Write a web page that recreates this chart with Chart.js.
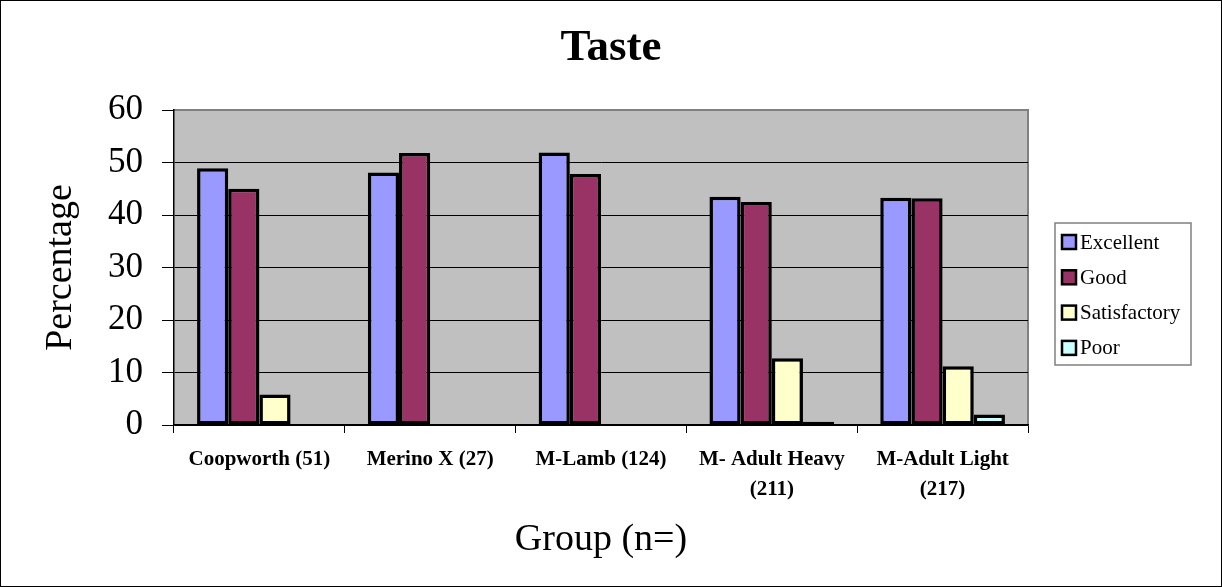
<!DOCTYPE html>
<html lang="en">
<head>
    <meta charset="UTF-8">
    <title>Taste</title>
    <script src="https://cdn.jsdelivr.net/npm/chart.js"></script>
    <style>
        html, body { margin: 0; padding: 0; background: #fff; }
        #chart { display: block; }
    </style>
</head>
<body>
    <canvas id="chart" width="1222" height="587"></canvas>

    <script>
        // values
        const groups = [
            'Coopworth (51)',
            'Merino X (27)',
            'M-Lamb (124)',
            ['M- Adult Heavy', '(211)'],
            ['M-Adult Light', '(217)']
        ];
        const excellent    = [48.9, 48.1, 51.9, 43.5, 43.3];
        const good         = [45.0, 51.8, 47.8, 42.5, 43.2];
        const satisfactory = [5.8, null, null, 12.7, 11.2];
        const poor         = [null, null, null, 0.6, 2.0];
        const yTicks = [0, 10, 20, 30, 40, 50, 60];

        const serif = "'Liberation Serif', 'Times New Roman', serif";
        Chart.defaults.color = '#000';

        // grey plot area with its frame
        const plotBackground = {
            id: 'plotBackground',
            beforeDraw(chart) {
                const { ctx, chartArea: a } = chart;
                ctx.save();
                ctx.fillStyle = '#C0C0C0';
                ctx.fillRect(a.left, a.top, a.right - a.left, a.bottom - a.top);
                ctx.strokeStyle = '#808080';
                ctx.lineWidth = 2;
                ctx.beginPath();
                ctx.moveTo(a.left, a.top);
                ctx.lineTo(a.right, a.top);
                ctx.lineTo(a.right, a.bottom);
                ctx.stroke();
                ctx.restore();
            }
        };

        // boxed legend on the right plus the outer frame
        const sideLegend = {
            id: 'sideLegend',
            afterDraw(chart) {
                const ctx = chart.ctx;
                ctx.save();
                ctx.strokeStyle = '#000';
                ctx.lineWidth = 1;
                ctx.strokeRect(0.5, 0.5, chart.width - 1, chart.height - 1);

                ctx.strokeStyle = '#808080';
                ctx.lineWidth = 1.5;
                ctx.strokeRect(1055, 223, 136, 142);

                ctx.font = Chart.helpers.toFont({ family: serif, size: 21 }).string;
                ctx.textBaseline = 'middle';
                ctx.textAlign = 'left';
                chart.data.datasets.forEach((ds, i) => {
                    const y = 242 + i * 35.3;
                    ctx.fillStyle = ds.backgroundColor;
                    ctx.fillRect(1062, y - 7, 14, 14);
                    ctx.strokeStyle = '#000';
                    ctx.lineWidth = 2.5;
                    ctx.strokeRect(1062, y - 7, 14, 14);
                    ctx.fillStyle = '#000';
                    ctx.fillText(ds.label, 1080, y + 1);
                });
                ctx.restore();
            }
        };

        function bar(label, data, color) {
            return {
                label,
                data,
                backgroundColor: color,
                borderColor: '#000',
                borderWidth: 3.5,
                borderSkipped: false,
                categoryPercentage: 0.73,
                barPercentage: 1.0
            };
        }

        new Chart(document.getElementById('chart'), {
            type: 'bar',
            data: {
                labels: groups,
                datasets: [
                    bar('Excellent', excellent, '#9999FF'),
                    bar('Good', good, '#993366'),
                    bar('Satisfactory', satisfactory, '#FFFFCC'),
                    bar('Poor', poor, '#CCFFFF')
                ]
            },
            options: {
                responsive: false,
                animation: false,
                plugins: {
                    legend: { display: false },
                    tooltip: { enabled: false },
                    title: {
                        display: true,
                        text: 'Taste',
                        font: { family: serif, size: 45, weight: 'bold', lineHeight: 1.2 },
                        padding: { top: 21, bottom: 35 }
                    }
                },
                scales: {
                    x: {
                        afterFit(scale) { scale.height = 162; },
                        grid: {
                            offset: true,
                            drawOnChartArea: false,
                            drawTicks: true,
                            tickLength: 8,
                            tickColor: '#000'
                        },
                        border: { color: '#000', width: 1.5 },
                        ticks: {
                            padding: 12,
                            maxRotation: 0,
                            autoSkip: false,
                            font: { family: serif, size: 21, weight: 'bold', lineHeight: 1.4 }
                        },
                        title: {
                            display: true,
                            text: 'Group (n=)',
                            font: { family: serif, size: 38, lineHeight: 1.2 },
                            padding: { top: 0, bottom: 24 }
                        }
                    },
                    y: {
                        min: 0,
                        max: 60,
                        afterFit(scale) { scale.width = 174; },
                        afterBuildTicks(scale) { scale.ticks = yTicks.map(v => ({ value: v })); },
                        grid: {
                            color: c => (c.tick && c.tick.value === 60) ? 'rgba(0,0,0,0)' : '#000',
                            lineWidth: 1,
                            drawTicks: true,
                            tickLength: 12,
                            tickColor: '#000'
                        },
                        border: { color: '#000', width: 1.5 },
                        ticks: {
                            padding: 19,
                            font: { family: serif, size: 35 }
                        },
                        title: {
                            display: true,
                            text: 'Percentage',
                            font: { family: serif, size: 38, lineHeight: 1.2 },
                            padding: { top: 38, bottom: 0 }
                        }
                    },
                    // empty right-hand scale that keeps room for the legend box
                    side: {
                        type: 'linear',
                        position: 'right',
                        afterFit(scale) { scale.width = 194; },
                        grid: { display: false, drawOnChartArea: false },
                        border: { display: false },
                        ticks: { display: false }
                    }
                }
            },
            plugins: [plotBackground, sideLegend]
        });
    </script>
</body>
</html>
